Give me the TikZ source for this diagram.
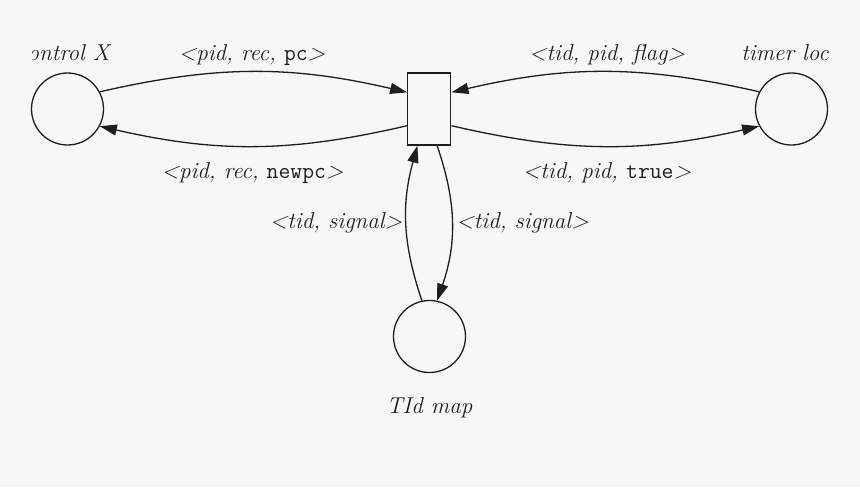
\documentclass[tikz,border=0pt]{standalone}
\usetikzlibrary{arrows.meta}
\definecolor{bgc}{HTML}{F7F7F7}
\definecolor{ink}{HTML}{1E1E1E}
\newcommand{\tw}[1]{\textup{\texttt{#1}}}
\begin{document}
\begin{tikzpicture}[x=0.5pt,y=-0.5pt,
  place/.style={circle,draw=ink,line width=0.65pt,minimum size=36pt,inner sep=0pt},
  trans/.style={rectangle,draw=ink,line width=0.65pt,minimum width=21.5pt,minimum height=36pt,inner sep=0pt},
  arc/.style={draw=ink,line width=0.65pt,-{Triangle[length=8.5pt,width=5.5pt]}},
  lbl/.style={font=\fontsize{11.5}{14}\selectfont\itshape,text=ink,inner sep=0pt}]
\fill[bgc] (0,0) rectangle (860,487);
\useasboundingbox (0,0) rectangle (860,487);
\node[place] (cx) at (67.5,109) {};
\node[place] (tm) at (791.5,109) {};
\node[place] (tid) at (429.5,336.5) {};
\node[trans] (tr) at (429.3,109) {};
\begin{scope}
\clip (32,0) rectangle (860,487);
\node[lbl,anchor=east] (lcx) at (110,53) {control X};
\end{scope}
\node[lbl] (ltm) at (785,53) {timer loc};
\node[lbl] (ltid) at (429.5,408) {TId map};
\draw[arc] (cx.28) to[bend left=13] (tr.143);
\draw[arc] (tr.217) to[bend left=13] (cx.-28);
\draw[arc] (tm.152) to[bend right=13] (tr.37);
\draw[arc] (tr.-37) to[bend right=13] (tm.208);
\draw[arc] (tid.102) to[bend left=17] (tr.252);
\draw[arc] (tr.282) to[bend left=19] (tid.78);
\node[lbl] (l1) at (252,55) {<pid, rec, \tw{pc}>};
\node[lbl] (l2) at (252.5,173) {<pid, rec, \tw{newpc}>};
\node[lbl] (l3) at (607,55) {<tid, pid, flag>};
\node[lbl] (l4) at (607,173) {<tid, pid, \tw{true}>};
\node[lbl] (l5) at (336,223) {<tid, signal>};
\node[lbl] (l6) at (522.5,223) {<tid, signal>};
\end{tikzpicture}
\end{document}
